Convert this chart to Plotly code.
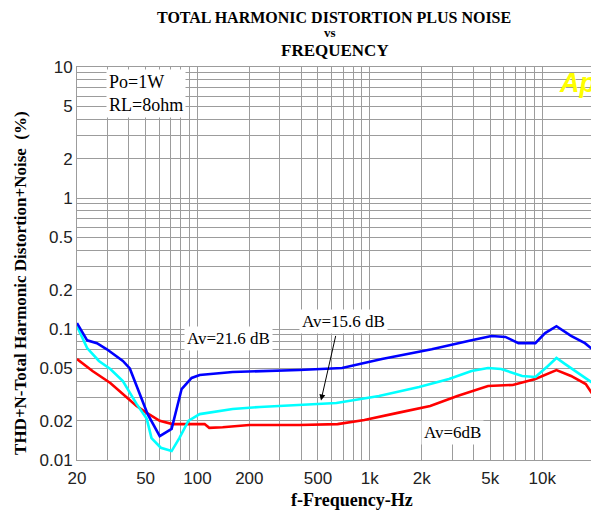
import numpy as np
import plotly.graph_objects as go

# THD+N (%) vs frequency (Hz)
freq_blue = [20, 22.9, 26.1, 29.8, 36.9, 40.5, 46.2, 51.4, 60.4, 70.8, 80.9, 92.5, 103,
             160, 389, 690, 1175, 2286, 3893, 5078, 6120, 7280, 9130, 10400, 12100,
             14700, 17700, 20800]
thd_blue = [0.111, 0.082, 0.078, 0.070, 0.057, 0.050, 0.032, 0.0224, 0.0152, 0.0173,
            0.0348, 0.0423, 0.0446, 0.047, 0.0486, 0.0504, 0.059, 0.070, 0.082, 0.0885,
            0.087, 0.078, 0.078, 0.093, 0.105, 0.0885, 0.078, 0.0656]

freq_cyan = [20, 22.9, 26.8, 31.2, 36.9, 44.3, 50.8, 54.1, 61.3, 70.8, 78.5, 88.5, 103,
             160, 230, 389, 640, 1130, 1930, 2880, 3890, 4850, 5780, 7650, 9130, 10800,
             12100, 13600, 16600, 20800]
thd_cyan = [0.105, 0.0716, 0.057, 0.0495, 0.040, 0.0268, 0.0206, 0.0147, 0.0124, 0.0117,
            0.0147, 0.0199, 0.0224, 0.0245, 0.0254, 0.0263, 0.0272, 0.0308, 0.0361, 0.0415,
            0.0478, 0.0504, 0.0495, 0.0438, 0.043, 0.0522, 0.0601, 0.054, 0.0453, 0.0367]

freq_red = [20, 24.6, 31.2, 36.9, 44.3, 50.8, 60.4, 71.7, 110, 117, 140, 200, 389, 650,
            930, 1450, 2240, 3220, 4850, 6750, 9130, 12100, 14700, 17900, 20800]
thd_red = [0.059, 0.0478, 0.0387, 0.0319, 0.0258, 0.0229, 0.0199, 0.0188, 0.0188, 0.0176,
           0.0178, 0.0185, 0.0185, 0.0188, 0.0202, 0.0229, 0.0258, 0.0308, 0.0367, 0.0374,
           0.0415, 0.0486, 0.0438, 0.038, 0.0282]

x_ticks = [20, 50, 100, 200, 500, 1000, 2000, 5000, 10000, 20000]
x_labels = ["20", "50", "100", "200", "500", "1k", "2k", "5k", "10k", "20k"]
y_ticks = [0.01, 0.02, 0.05, 0.1, 0.2, 0.5, 1, 2, 5, 10]
y_labels = ["0.01", "0.02", "0.05", "0.1", "0.2", "0.5", "1", "2", "5", "10"]

SERIF = "Liberation Serif, Times New Roman, serif"
SANS = "Liberation Sans, Arial, sans-serif"
GRID = "#9c9c9c"

fig = go.Figure()
for fx, fy, col in [(freq_red, thd_red, "#ff0000"),
                    (freq_cyan, thd_cyan, "#00ffff"),
                    (freq_blue, thd_blue, "#0000ff")]:
    fig.add_trace(go.Scatter(x=fx, y=fy, mode="lines",
                             line=dict(color=col, width=2.6), showlegend=False))

ann = [
    dict(text="TOTAL HARMONIC DISTORTION PLUS NOISE", x=0.494, y=1.127,
         font=dict(family=SERIF, size=16, color="black")),
    dict(text="vs", x=0.487, y=1.089, font=dict(family=SERIF, size=13, color="black")),
    dict(text="FREQUENCY", x=0.496, y=1.041, font=dict(family=SERIF, size=17, color="black")),
    dict(text="f-Frequency-Hz", x=0.529, y=-0.102,
         font=dict(family=SERIF, size=18, color="black")),
    dict(text="THD+N-Total Harmonic Distortion+Noise  (%)", x=-0.11, y=0.45, textangle=-90,
         font=dict(family=SERIF, size=17, color="black")),
    dict(text="<i>Ap</i>", x=0.962, y=0.96,
         font=dict(family=SANS, size=27, color="#ffff00")),
]
for a in ann:
    text = a.pop("text")
    fig.add_annotation(text=f"<b>{text}</b>", xref="paper", yref="paper",
                       showarrow=False, xanchor="center", yanchor="middle", **a)

fig.add_annotation(text="Po=1W<br>RL=8ohm", xref="paper", yref="paper", x=0.056, y=0.995,
                   xanchor="left", yanchor="top", align="left", showarrow=False,
                   bgcolor="white", borderpad=2,
                   font=dict(family=SERIF, size=18, color="black"))

labels = [("Av=21.6 dB", 151, 0.084), ("Av=15.6 dB", 708, 0.115), ("Av=6dB", 3020, 0.0161)]
for txt, fx, fy in labels:
    fig.add_annotation(text=txt, x=np.log10(fx), y=np.log10(fy), xref="x", yref="y",
                       showarrow=False, bgcolor="white", borderpad=2,
                       font=dict(family=SERIF, size=17, color="black"))

fig.add_annotation(text="", x=np.log10(521), y=np.log10(0.0285), xref="x", yref="y",
                   ax=15, ay=-66, showarrow=True, arrowhead=2, arrowsize=1.2,
                   arrowwidth=1, arrowcolor="black")

axis_common = dict(type="log", showgrid=True, gridcolor=GRID, gridwidth=1,
                   showline=True, linecolor=GRID, linewidth=1, mirror=True,
                   ticks="", zeroline=False,
                   tickfont=dict(family=SANS, size=17, color="#222"),
                   minor=dict(dtick="D1", showgrid=True, gridcolor=GRID, gridwidth=1))

fig.update_xaxes(range=[np.log10(20), np.log10(20800)], tickvals=x_ticks,
                 ticktext=x_labels, ticklabelstandoff=3, **axis_common)
fig.update_yaxes(range=[-2, 1], tickvals=y_ticks, ticktext=y_labels, **axis_common)

# page body has an 8px margin, so the figure is sized to leave room for it
fig.update_layout(
    width=591, height=505,
    margin=dict(l=69, r=2, t=59, b=53),
    paper_bgcolor="white", plot_bgcolor="white",
    showlegend=False,
)

fig.write_html("out.html")
